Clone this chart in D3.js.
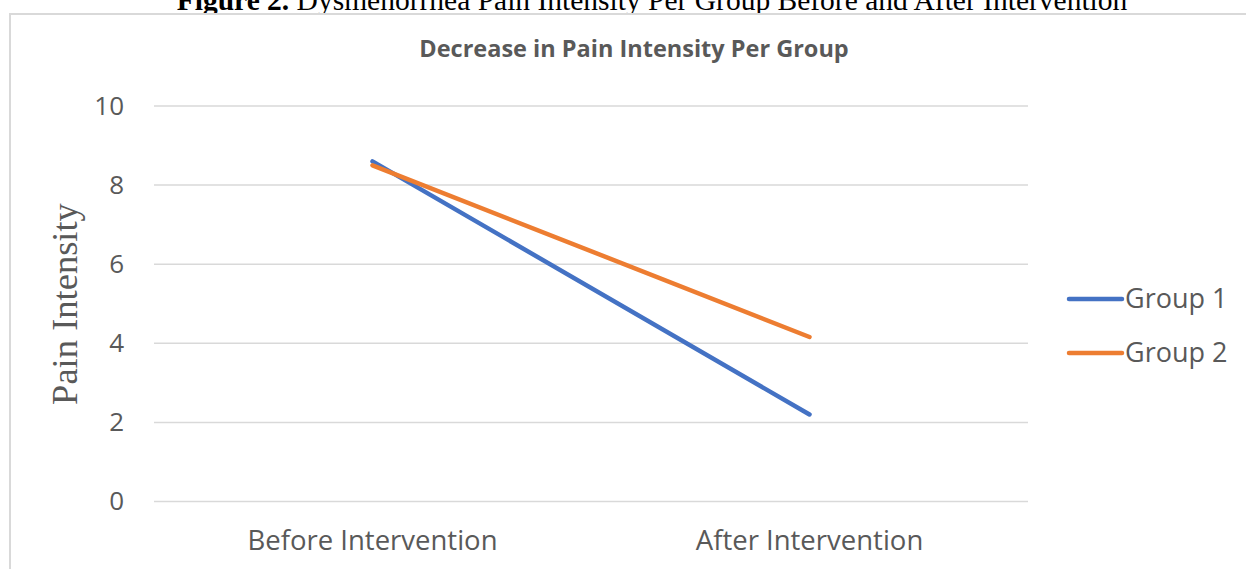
<!DOCTYPE html>
<html>
<head>
<meta charset="utf-8">
<script src="https://cdn.jsdelivr.net/npm/d3@7"></script>
<style>
  html, body { margin: 0; padding: 0; background: #fff; }
  svg { display: block; }
</style>
</head>
<body>
<svg id="chart" width="1246" height="569"></svg>
<script>
// Chart data
const categories = ["Before Intervention", "After Intervention"];
const seriesNames = ["Group 1", "Group 2"];
const group1 = [8.6, 2.2];
const group2 = [8.5, 4.16];
const yTicks = [0, 2, 4, 6, 8, 10];
const seriesColors = ["#4472C4", "#ED7D31"];

const svg = d3.select("#chart");
const plot = { left: 154, right: 1028, top: 106, bottom: 501.5 };

// Caption above the chart frame (runs off the top of the page)
const cap = svg.append("text")
  .attr("x", 652).attr("y", 10)
  .attr("text-anchor", "middle")
  .style("font-family", "'Liberation Serif', 'Times New Roman', serif")
  .style("font-size", "29.5px")
  .attr("fill", "#000");
cap.append("tspan").style("font-weight", "bold").text("Figure 2.");
cap.append("tspan").text(" Dysmenorrhea Pain Intensity Per Group Before and After Intervention");

// Chart frame
svg.append("rect")
  .attr("x", 10).attr("y", 14)
  .attr("width", 1300).attr("height", 700)
  .attr("fill", "#fff")
  .attr("stroke", "#d9d9d9").attr("stroke-width", 2);

const x = d3.scaleBand().domain(categories).range([plot.left, plot.right]);
const y = d3.scaleLinear().domain([0, 10]).range([plot.bottom, plot.top]);

// Horizontal gridlines
svg.append("g").selectAll("line").data(yTicks).join("line")
  .attr("x1", plot.left).attr("x2", plot.right)
  .attr("y1", d => y(d)).attr("y2", d => y(d))
  .attr("stroke", "#d9d9d9").attr("stroke-width", 1.5);

// Y axis labels
const yAxis = svg.append("g")
  .attr("transform", `translate(${plot.left},0)`)
  .call(d3.axisLeft(y).tickValues(yTicks).tickSize(0).tickPadding(30));
yAxis.select(".domain").remove();
yAxis.selectAll("text")
  .style("font-family", "'Open Sans', sans-serif")
  .style("font-size", "26px")
  .attr("fill", "#595959");

// X axis labels
const xAxis = svg.append("g")
  .attr("transform", `translate(0,${plot.bottom})`)
  .call(d3.axisBottom(x).tickSize(0).tickPadding(29));
xAxis.select(".domain").remove();
xAxis.selectAll("text")
  .style("font-family", "'Open Sans', sans-serif")
  .style("font-size", "27.5px")
  .attr("fill", "#595959");

// Chart title
svg.append("text")
  .attr("x", 634).attr("y", 57)
  .attr("text-anchor", "middle")
  .style("font-family", "'Open Sans', sans-serif")
  .style("font-weight", "bold")
  .style("font-size", "23.5px")
  .attr("fill", "#595959")
  .text("Decrease in Pain Intensity Per Group");

// Y axis title
svg.append("text")
  .attr("transform", "translate(77,304) rotate(-90)")
  .attr("text-anchor", "middle")
  .style("font-family", "'Liberation Serif', 'Times New Roman', serif")
  .style("font-size", "36.5px")
  .attr("fill", "#595959")
  .text("Pain Intensity");

// Series lines
const line = d3.line()
  .x((d, i) => x(categories[i]) + x.bandwidth() / 2)
  .y(d => y(d));

[group1, group2].forEach((vals, i) => {
  svg.append("path")
    .datum(vals)
    .attr("d", line)
    .attr("fill", "none")
    .attr("stroke", seriesColors[i])
    .attr("stroke-width", 4.5)
    .attr("stroke-linecap", "round");
});

// Legend
const legend = svg.append("g");
seriesNames.forEach((name, i) => {
  const ly = 299 + i * 54;
  legend.append("line")
    .attr("x1", 1069).attr("x2", 1122)
    .attr("y1", ly).attr("y2", ly)
    .attr("stroke", seriesColors[i])
    .attr("stroke-width", 4.5)
    .attr("stroke-linecap", "round");
  legend.append("text")
    .attr("x", 1125).attr("y", ly)
    .attr("dy", "0.35em")
    .style("font-family", "'Open Sans', sans-serif")
    .style("font-size", "27px")
    .attr("fill", "#595959")
    .text(name);
});
</script>
</body>
</html>
